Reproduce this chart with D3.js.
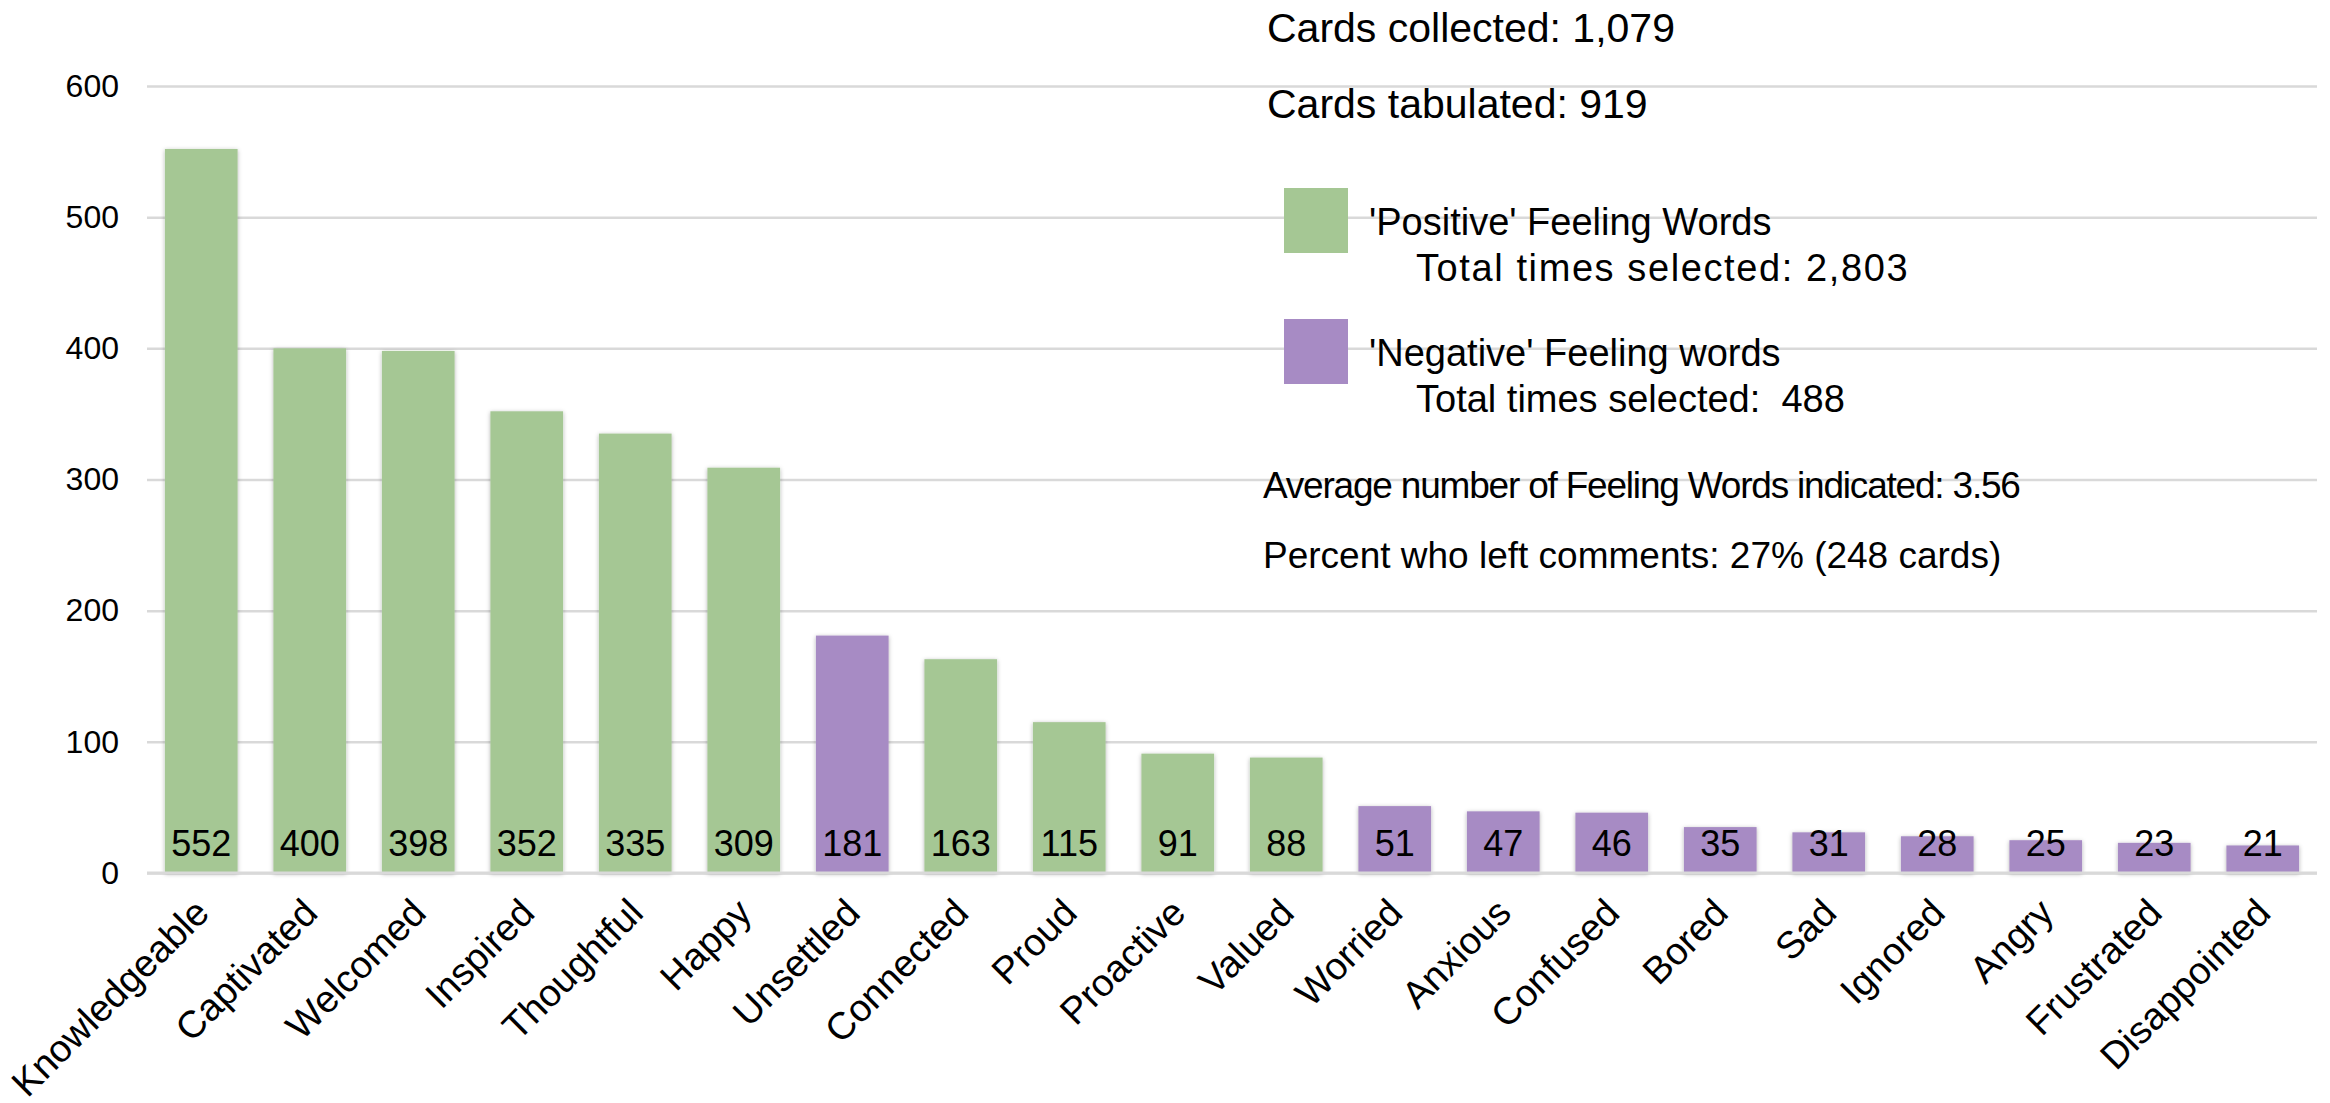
<!DOCTYPE html>
<html>
<head>
<meta charset="utf-8">
<script src="https://cdn.jsdelivr.net/npm/d3@7"></script>
<style>
  body { margin: 0; background: #fff; }
  svg text { font-family: Arial, "Liberation Sans", sans-serif; fill: #000; }
</style>
</head>
<body>
<svg id="chart" width="2330" height="1103"></svg>
<script>
// feeling words, sorted by times selected
const words = ['Knowledgeable', 'Captivated', 'Welcomed', 'Inspired', 'Thoughtful', 'Happy', 'Unsettled',
  'Connected', 'Proud', 'Proactive', 'Valued', 'Worried', 'Anxious', 'Confused', 'Bored', 'Sad',
  'Ignored', 'Angry', 'Frustrated', 'Disappointed'];
const counts = [552, 400, 398, 352, 335, 309, 181, 163, 115, 91, 88, 51, 47, 46, 35, 31, 28, 25, 23, 21];
const negativeWords = ['Unsettled', 'Worried', 'Anxious', 'Confused', 'Bored', 'Sad', 'Ignored',
  'Angry', 'Frustrated', 'Disappointed'];
const yTicks = [0, 100, 200, 300, 400, 500, 600];

const legendItems = [
  { label: "'Positive' Feeling Words", total: 'Total times selected: 2,803' },
  { label: "'Negative' Feeling words", total: 'Total times selected:  488' }
];
const notesTop = ['Cards collected: 1,079', 'Cards tabulated: 919'];
const notesBottom = ['Average number of Feeling Words indicated: 3.56', 'Percent who left comments: 27% (248 cards)'];

const GREEN = '#a5c794';
const PURPLE = '#a78bc4';

const data = words.map((w, i) => ({ word: w, count: counts[i], negative: negativeWords.includes(w) }));

const svg = d3.select('#chart');
const margin = { top: 86, right: 13, bottom: 230, left: 147 };
const width = +svg.attr('width');
const height = +svg.attr('height');
const innerWidth = width - margin.left - margin.right;
const innerHeight = height - margin.top - margin.bottom;

const defs = svg.append('defs');
defs.append('filter').attr('id', 'shadow').attr('x', '-20%').attr('y', '-20%').attr('width', '140%').attr('height', '140%')
  .append('feDropShadow').attr('dx', 0).attr('dy', 1).attr('stdDeviation', 2)
  .attr('flood-color', '#000').attr('flood-opacity', 0.3);

const xScale = d3.scaleBand().domain(words).range([0, innerWidth]).paddingInner(0.33).paddingOuter(0.165);
const yScale = d3.scaleLinear().domain([0, 600]).range([innerHeight, 0]);

const g = svg.append('g').attr('transform', `translate(${margin.left}, ${margin.top})`);

// gridlines + y labels
const yAxis = g.append('g')
  .call(d3.axisLeft(yScale).tickValues(yTicks).tickSize(-innerWidth).tickPadding(28));
yAxis.select('.domain').remove();
yAxis.selectAll('.tick line').attr('stroke', '#d9d9d9').attr('stroke-width', 2.5);
yAxis.selectAll('.tick text').attr('font-size', 32).attr('fill', '#000')
  .attr('font-family', 'Arial, "Liberation Sans", sans-serif');

// notes
const notes = svg.append('g');
notes.selectAll('text.top').data(notesTop).enter().append('text').attr('class', 'top')
  .attr('x', 1267).attr('y', (d, i) => 42 + i * 76)
  .attr('font-size', 41).style('white-space', 'pre').text(d => d);
notes.selectAll('text.bottom').data(notesBottom).enter().append('text').attr('class', 'bottom')
  .attr('x', 1263).attr('y', (d, i) => 498 + i * 70)
  .attr('font-size', 37).attr('letter-spacing', (d, i) => i === 0 ? -1.2 : 0)
  .style('white-space', 'pre').text(d => d);

// legend
const legend = svg.append('g').attr('transform', 'translate(1284, 188)');
const li = legend.selectAll('g').data(legendItems).enter().append('g')
  .attr('transform', (d, i) => `translate(0, ${i * 131})`);
li.append('rect').attr('width', 64).attr('height', 65).attr('fill', (d, i) => i === 0 ? GREEN : PURPLE);
li.append('text').attr('x', 85).attr('y', 47).attr('font-size', 38)
  .style('white-space', 'pre').text(d => d.label);
li.append('text').attr('x', 132).attr('y', 93).attr('font-size', 38)
  .attr('letter-spacing', (d, i) => i === 0 ? 1.6 : 0)
  .style('white-space', 'pre').text(d => d.total);

// bars
g.selectAll('rect.bar').data(data).enter().append('rect').attr('class', 'bar')
  .attr('x', d => xScale(d.word))
  .attr('y', d => yScale(d.count))
  .attr('width', xScale.bandwidth())
  .attr('height', d => innerHeight - yScale(d.count))
  .attr('fill', d => d.negative ? PURPLE : GREEN)
  .attr('filter', 'url(#shadow)');

// baseline
g.append('line').attr('x1', 0).attr('x2', innerWidth).attr('y1', innerHeight).attr('y2', innerHeight)
  .attr('stroke', '#d9d9d9').attr('stroke-width', 3);

// value labels at the foot of each bar
g.selectAll('text.value').data(data).enter().append('text').attr('class', 'value')
  .attr('x', d => xScale(d.word) + xScale.bandwidth() / 2)
  .attr('y', innerHeight - 17)
  .attr('text-anchor', 'middle')
  .attr('font-size', 36)
  .text(d => d.count);

// category labels, rotated
g.selectAll('text.cat').data(data).enter().append('text').attr('class', 'cat')
  .attr('transform', d => `translate(${xScale(d.word) + xScale.bandwidth() / 2 + 10}, ${innerHeight + 42}) rotate(-45)`)
  .attr('text-anchor', 'end')
  .attr('font-size', 38)
  .text(d => d.word);
</script>
</body>
</html>
